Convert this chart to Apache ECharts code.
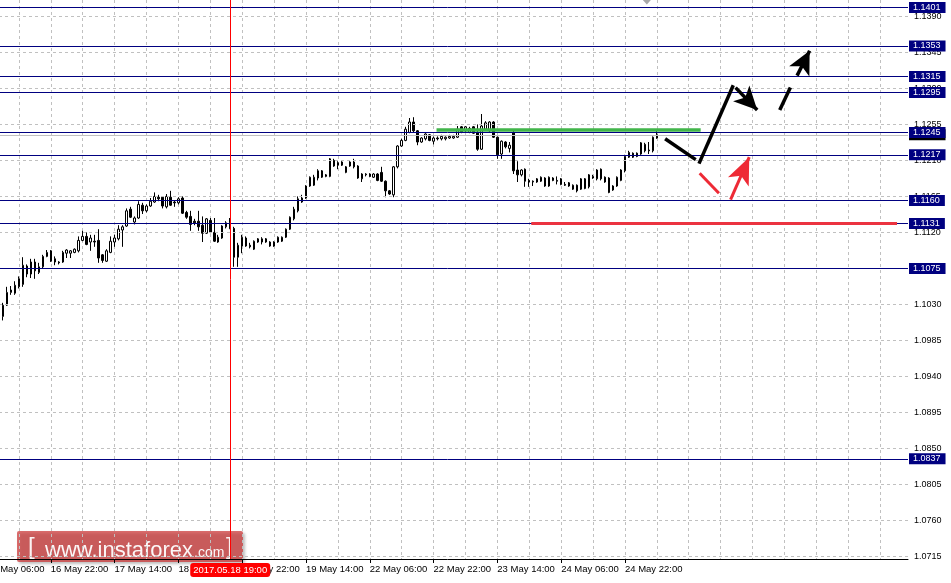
<!DOCTYPE html>
<html><head><meta charset="utf-8">
<script src="https://cdn.jsdelivr.net/npm/echarts@6/dist/echarts.min.js"></script>
<style>html,body{margin:0;padding:0;background:#fff;overflow:hidden;width:951px;height:583px}#c{width:967px;height:583px;margin-left:-16px}</style>
</head><body><div id="c"></div>
<script>
// ---------- data ----------
const firstBar = 4;            // category index of first visible candle
const crosshairIndex = 61;     // 2017.05.18 19:00
const opens = [
1.1015,1.1029,1.1045,1.1044,1.1052,1.1055,1.1078,1.1068,1.1083,1.1070,
1.1077,1.1090,1.1097,1.1087,1.1083,1.1083,1.1094,1.1094,1.1095,1.1097,
1.1110,1.1115,1.1108,1.1109,1.1110,1.1092,1.1084,1.1095,1.1108,1.1112,
1.1123,1.1128,1.1149,1.1133,1.1138,1.1154,1.1147,1.1153,1.1158,1.1164,
1.1164,1.1152,1.1164,1.1158,1.1157,1.1163,1.1145,1.1140,1.1134,1.1134,
1.1129,1.1119,1.1135,1.1120,1.1108,1.1113,1.1127,1.1132,1.1125,1.1089,
1.1103,1.1113,1.1104,1.1099,1.1108,1.1108,1.1112,1.1103,1.1108,1.1108,
1.1109,1.1114,1.1124,1.1137,1.1147,1.1158,1.1163,1.1178,1.1179,1.1188,
1.1189,1.1190,1.1190,1.1210,1.1207,1.1204,1.1195,1.1208,1.1208,1.1203,
1.1187,1.1192,1.1193,1.1189,1.1193,1.1195,1.1184,1.1172,1.1167,1.1202,
1.1228,1.1235,1.1245,1.1258,1.1247,1.1233,1.1237,1.1242,1.1234,1.1238,
1.1237,1.1237,1.1238,1.1238,1.1239,1.1252,1.1247,1.1245,1.1252,1.1245,
1.1224,1.1249,1.1247,1.1258,1.1239,1.1218,1.1233,1.1225,1.1245,1.1198,
1.1192,1.1199,1.1185,1.1183,1.1183,1.1184,1.1188,1.1178,1.1188,1.1185,
1.1187,1.1180,1.1182,1.1174,1.1179,1.1174,1.1187,1.1177,1.1188,1.1187,
1.1199,1.1189,1.1188,1.1173,1.1178,1.1185,1.1197,1.1214,1.1219,1.1219,
1.1218,1.1230,1.1223,1.1222,1.1238];
const closes = [
1.1029,1.1045,1.1048,1.1054,1.1062,1.1079,1.1068,1.1083,1.1072,1.1077,
1.1090,1.1095,1.1084,1.1083,1.1082,1.1095,1.1098,1.1097,1.1099,1.1110,
1.1115,1.1105,1.1113,1.1108,1.1088,1.1085,1.1097,1.1109,1.1113,1.1124,
1.1127,1.1147,1.1139,1.1138,1.1155,1.1147,1.1153,1.1159,1.1165,1.1162,
1.1153,1.1165,1.1154,1.1157,1.1162,1.1144,1.1139,1.1130,1.1132,1.1127,
1.1119,1.1137,1.1120,1.1109,1.1114,1.1128,1.1132,1.1125,1.1089,1.1104,
1.1114,1.1103,1.1102,1.1109,1.1112,1.1112,1.1108,1.1108,1.1103,1.1114,
1.1114,1.1124,1.1139,1.1149,1.1162,1.1163,1.1178,1.1189,1.1189,1.1197,
1.1197,1.1192,1.1212,1.1203,1.1204,1.1208,1.1202,1.1203,1.1202,1.1188,
1.1193,1.1193,1.1190,1.1193,1.1185,1.1184,1.1172,1.1168,1.1202,1.1228,
1.1235,1.1249,1.1258,1.1247,1.1233,1.1238,1.1243,1.1235,1.1238,1.1237,
1.1240,1.1239,1.1240,1.1240,1.1249,1.1245,1.1252,1.1250,1.1244,1.1224,
1.1253,1.1257,1.1258,1.1239,1.1217,1.1234,1.1227,1.1229,1.1197,1.1192,
1.1198,1.1184,1.1183,1.1184,1.1187,1.1189,1.1178,1.1189,1.1185,1.1184,
1.1180,1.1179,1.1178,1.1179,1.1172,1.1187,1.1175,1.1192,1.1190,1.1198,
1.1187,1.1183,1.1170,1.1178,1.1189,1.1198,1.1215,1.1220,1.1214,1.1215,
1.1232,1.1222,1.1222,1.1239,1.1242];
const lows = [
1.1010,1.1028,1.1042,1.1042,1.1050,1.1052,1.1064,1.1063,1.1062,1.1068,
1.1075,1.1089,1.1083,1.1079,1.1080,1.1082,1.1088,1.1088,1.1094,1.1095,
1.1109,1.1104,1.1097,1.1102,1.1082,1.1082,1.1083,1.1094,1.1102,1.1110,
1.1102,1.1127,1.1138,1.1130,1.1137,1.1143,1.1145,1.1152,1.1157,1.1159,
1.1150,1.1150,1.1153,1.1152,1.1155,1.1143,1.1137,1.1122,1.1129,1.1122,
1.1108,1.1118,1.1119,1.1108,1.1107,1.1112,1.1125,1.1124,1.1077,1.1077,
1.1094,1.1102,1.1100,1.1098,1.1107,1.1105,1.1107,1.1102,1.1102,1.1107,
1.1108,1.1113,1.1123,1.1135,1.1145,1.1157,1.1162,1.1177,1.1178,1.1185,
1.1188,1.1189,1.1189,1.1202,1.1199,1.1203,1.1194,1.1202,1.1200,1.1187,
1.1183,1.1190,1.1189,1.1188,1.1184,1.1183,1.1164,1.1167,1.1164,1.1200,
1.1227,1.1234,1.1244,1.1245,1.1229,1.1232,1.1235,1.1234,1.1230,1.1235,
1.1235,1.1235,1.1237,1.1237,1.1238,1.1244,1.1245,1.1244,1.1243,1.1222,
1.1223,1.1248,1.1245,1.1238,1.1212,1.1212,1.1225,1.1220,1.1193,1.1183,
1.1190,1.1177,1.1177,1.1178,1.1182,1.1183,1.1177,1.1177,1.1184,1.1180,
1.1179,1.1178,1.1177,1.1173,1.1170,1.1173,1.1174,1.1175,1.1187,1.1185,
1.1185,1.1182,1.1169,1.1172,1.1177,1.1184,1.1195,1.1213,1.1213,1.1214,
1.1217,1.1220,1.1218,1.1220,1.1237];
const highs = [
1.1032,1.1052,1.1053,1.1059,1.1065,1.1089,1.1080,1.1087,1.1087,1.1082,
1.1092,1.1098,1.1098,1.1090,1.1084,1.1097,1.1099,1.1098,1.1100,1.1115,
1.1122,1.1120,1.1117,1.1117,1.1124,1.1093,1.1099,1.1115,1.1117,1.1129,
1.1129,1.1150,1.1152,1.1140,1.1159,1.1157,1.1155,1.1163,1.1170,1.1167,
1.1165,1.1168,1.1172,1.1160,1.1164,1.1165,1.1147,1.1147,1.1137,1.1147,
1.1140,1.1138,1.1138,1.1138,1.1117,1.1129,1.1134,1.1138,1.1127,1.1107,
1.1117,1.1115,1.1107,1.1110,1.1113,1.1114,1.1113,1.1109,1.1109,1.1115,
1.1115,1.1125,1.1140,1.1152,1.1165,1.1167,1.1179,1.1190,1.1192,1.1199,
1.1198,1.1193,1.1213,1.1212,1.1209,1.1209,1.1203,1.1209,1.1212,1.1204,
1.1194,1.1194,1.1194,1.1194,1.1194,1.1202,1.1185,1.1173,1.1203,1.1229,
1.1237,1.1252,1.1263,1.1264,1.1248,1.1239,1.1244,1.1243,1.1240,1.1240,
1.1242,1.1240,1.1242,1.1242,1.1253,1.1253,1.1253,1.1252,1.1253,1.1255,
1.1268,1.1259,1.1259,1.1259,1.1240,1.1235,1.1234,1.1233,1.1247,1.1209,
1.1199,1.1200,1.1187,1.1185,1.1188,1.1190,1.1189,1.1190,1.1189,1.1190,
1.1188,1.1183,1.1183,1.1180,1.1180,1.1188,1.1188,1.1193,1.1192,1.1199,
1.1200,1.1190,1.1189,1.1179,1.1190,1.1199,1.1217,1.1222,1.1220,1.1220,
1.1233,1.1232,1.1233,1.1240,1.1248];

const xTickLabels = ['16 May 06:00','16 May 22:00','17 May 14:00','18 May 06:00','18 May 22:00',
  '19 May 14:00','22 May 06:00','22 May 22:00','23 May 14:00','24 May 06:00','24 May 22:00'];
const yTickValues = [1.0715,1.0760,1.0805,1.0850,1.0895,1.0940,1.0985,1.1030,1.1075,1.1120,
  1.1165,1.1210,1.1255,1.1300,1.1345,1.1390];
const levelValues = [1.1401,1.1353,1.1315,1.1295,1.1245,1.1217,1.1160,1.1131,1.1075,1.0837];
const bidPrice = 1.1242;
const Y_MIN = 1.07118, Y_MAX = 1.14105;

// forecast annotations: [x (bar index), price] pairs
const greenLine = [[112.75, 1.1248], [179, 1.1248]];
const redLevel  = [[136.5, 1.1131], [228.25, 1.1131]];
const blackSegs = [
  [[170.08,1.1237],[177.75,1.1211], false],
  [[178.58,1.1206],[187.18,1.1304], false],
  [[187.75,1.1301],[193.18,1.1273], true],
  [[198.83,1.1273],[201.50,1.1301], false],
  [[203.18,1.1316],[206.33,1.1347], true]
];
const redSegs = [
  [[178.75,1.1194],[183.58,1.1169], false],
  [[186.50,1.1161],[191.18,1.1214], true]
];
const shiftMarkerX = 165.5;

// ---------- categories (hourly bars, weekend skipped) ----------
const categories = [];
(function(){
  let t = Date.UTC(2017,4,16,6);
  const p = n => String(n).padStart(2,'0');
  while (categories.length < 232) {
    const d = new Date(t);
    const dow = d.getUTCDay();
    if (dow !== 0 && dow !== 6) {
      categories.push(d.getUTCFullYear()+'.'+p(d.getUTCMonth()+1)+'.'+p(d.getUTCDate())+' '+p(d.getUTCHours())+':00');
    }
    t += 3600000;
  }
})();
const lastBar = firstBar + opens.length - 1;
const candleData = categories.map((c,i)=>{
  const k = i - firstBar;
  return (k >= 0 && k < opens.length) ? [opens[k], closes[k], lows[k], highs[k]] : '-';
});

const FONT = '"Liberation Sans", Arial, sans-serif';
const tickShown = (i) => i % 16 === 0 && i <= lastBar;

function segData(segs, size){
  return segs.map(s => [
    {coord: s[0], symbol: 'none', symbolSize: 1},
    s[2] ? {coord: s[1], symbol: 'arrow', symbolSize: size} : {coord: s[1], symbol: 'none', symbolSize: 1}
  ]);
}

const chart = echarts.init(document.getElementById('c'), null, {renderer:'canvas', width:967, height:583});
const ML = { silent: true, animation: false, precision: 5, emphasis: { disabled: true } };
const option = {
  animation: false,
  backgroundColor: '#ffffff',
  axisPointer: { triggerOn: 'none' },
  grid: { left: 0, right: 43, top: 0, bottom: 24, containLabel: false },
  xAxis: [
    { type: 'category', data: categories, boundaryGap: false,
      axisLine: { lineStyle: { color: '#000', width: 1 } },
      axisTick: { interval: tickShown, alignWithLabel: true, length: 4, lineStyle: { color: '#000' } },
      axisLabel: { interval: tickShown, formatter: (v, i) => xTickLabels[i / 16] || '',
        align: 'left', margin: 5, color: '#000', fontSize: 9.5, fontFamily: FONT },
      splitLine: { show: true, interval: (i) => i % 8 === 0,
        lineStyle: { color: '#c0c0c0', type: [3, 3], width: 1 } },
      axisPointer: { show: true, type: 'line', value: crosshairIndex, status: 'show', snap: false,
        triggerTooltip: false,
        lineStyle: { color: '#ff0000', width: 1, type: 'solid' },
        label: { show: true, backgroundColor: '#ff0000', color: '#ffffff', padding: [2, 3, 2, 3],
          fontSize: 9.5, fontFamily: FONT, margin: 4 } }
    },
    { type: 'value', min: 0, max: categories.length - 1, show: false, gridIndex: 0 }
  ],
  yAxis: { type: 'value', position: 'right', min: Y_MIN, max: Y_MAX, scale: true,
    axisLine: { show: true, lineStyle: { color: '#000' } },
    axisTick: { show: true, customValues: yTickValues, length: 4, lineStyle: { color: '#000' } },
    axisLabel: { customValues: yTickValues, formatter: v => v.toFixed(4), color: '#000',
      fontSize: 9, fontFamily: FONT, margin: 6 },
    splitLine: { show: false }
  },
  series: [
    { name: 'grid', type: 'line', data: [], z: 1, silent: true,
      markLine: Object.assign({}, ML, { symbol: 'none', label: { show: false },
        lineStyle: { color: '#c0c0c0', type: [3, 3], width: 1 },
        data: yTickValues.map(v => ({ yAxis: v })) }) },
    { name: 'bid', type: 'line', data: [], z: 2, silent: true,
      markLine: Object.assign({}, ML, { symbol: 'none',
        lineStyle: { color: '#c0c0c0', type: 'solid', width: 1 },
        label: { show: true, position: 'end', distance: 1, formatter: p => p.value.toFixed(4),
          backgroundColor: '#000000', color: '#ffffff', padding: [1, 5, 1, 4], fontSize: 9, fontFamily: FONT },
        data: [{ yAxis: bidPrice }] }) },
    { name: 'EURUSD', type: 'candlestick', data: candleData, z: 3, barWidth: 2, silent: true,
      itemStyle: { color: '#ffffff', color0: '#000000', borderColor: '#000000', borderColor0: '#000000',
        borderColorDoji: '#000000', borderWidth: 1 } },
    { name: 'levels', type: 'line', data: [], z: 4, silent: true,
      markLine: Object.assign({}, ML, { symbol: 'none',
        lineStyle: { color: '#000080', type: 'solid', width: 1 },
        label: { show: true, position: 'end', distance: 1, formatter: p => p.value.toFixed(4),
          backgroundColor: '#000080', color: '#ffffff', padding: [1, 5, 1, 4], fontSize: 9, fontFamily: FONT },
        data: levelValues.map(v => ({ yAxis: v })) }) },
    { name: 'green', type: 'line', xAxisIndex: 1, data: [], z: 5, silent: true,
      markLine: Object.assign({}, ML, { symbol: 'none', label: { show: false },
        lineStyle: { color: '#41b54a', type: 'solid', width: 3.5 },
        data: [[{ coord: greenLine[0] }, { coord: greenLine[1] }]] }) },
    { name: 'redLevel', type: 'line', xAxisIndex: 1, data: [], z: 5, silent: true,
      markLine: Object.assign({}, ML, { symbol: 'none', label: { show: false },
        lineStyle: { color: '#eb3340', type: 'solid', width: 3 },
        data: [[{ coord: redLevel[0] }, { coord: redLevel[1] }]] }) },
    { name: 'blackPath', type: 'line', xAxisIndex: 1, data: [], z: 6, silent: true,
      markLine: Object.assign({}, ML, { symbol: ['none', 'none'], label: { show: false },
        itemStyle: { color: '#000000' },
        lineStyle: { color: '#000000', type: 'solid', width: 3.5 },
        data: segData(blackSegs, [17, 23]) }),
      markPoint: { silent: true, animation: false, label: { show: false },
        data: [{ coord: [shiftMarkerX, Y_MAX], symbol: 'triangle', symbolRotate: 180, symbolSize: [9, 5],
          symbolOffset: [0, 2], itemStyle: { color: '#a8a8a8' } }] } },
    { name: 'redPath', type: 'line', xAxisIndex: 1, data: [], z: 6, silent: true,
      markLine: Object.assign({}, ML, { symbol: ['none', 'none'], label: { show: false },
        itemStyle: { color: '#ee2a35' },
        lineStyle: { color: '#ee2a35', type: 'solid', width: 3 },
        data: segData(redSegs, [17, 27]) }) }
  ],
  graphic: [
    { type: 'group', left: 33, top: 531, z: 100, silent: true, children: [
      { type: 'rect', shape: { x: 0, y: 0, width: 226, height: 31, r: 2 },
        style: { fill: 'rgba(204,52,52,0.72)', shadowBlur: 3, shadowOffsetX: 2, shadowOffsetY: 2,
          shadowColor: 'rgba(0,0,0,0.35)' } },
      { type: 'text', x: 11, y: 16, style: { text: '[', fill: 'rgba(255,255,255,0.92)',
          font: '24px "Liberation Sans", Arial, sans-serif', align: 'left', verticalAlign: 'middle' } },
      { type: 'text', x: 28, y: 19.5, style: { text: 'www.instaforex', fill: 'rgba(255,255,255,0.95)',
          font: '22px "Liberation Sans", Arial, sans-serif', align: 'left', verticalAlign: 'middle' } },
      { type: 'text', x: 177, y: 22, style: { text: '.com', fill: 'rgba(255,255,255,0.95)',
          font: '14px "Liberation Sans", Arial, sans-serif', align: 'left', verticalAlign: 'middle' } },
      { type: 'text', x: 209, y: 16, style: { text: ']', fill: 'rgba(255,255,255,0.92)',
          font: '24px "Liberation Sans", Arial, sans-serif', align: 'left', verticalAlign: 'middle' } }
    ] }
  ]
};
chart.setOption(option);
</script>
</body></html>
